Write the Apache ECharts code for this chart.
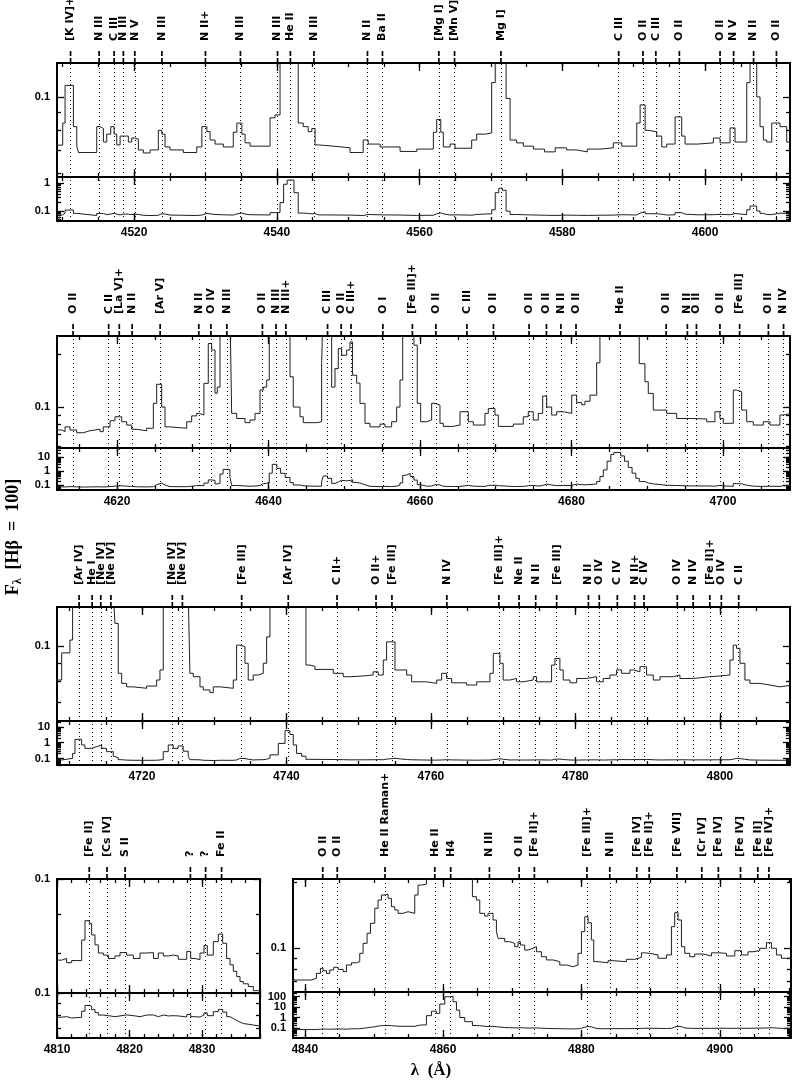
<!DOCTYPE html>
<html><head><meta charset="utf-8">
<script src="https://cdn.jsdelivr.net/npm/echarts@6/dist/echarts.min.js"></script>
<style>html,body{margin:0;padding:0;background:#fff}#c{width:792px;height:1081px}</style>
</head><body><div id="c"></div>
<script>
// ---------------- DATA ----------------
// spectrum: [wavelength (bin start, Å), F_lambda (Hβ = 100)]
const row1Spectrum = [[4509.0,0.0725],[4510.0,0.084],[4510.33,0.108],[4511.5,0.082],[4511.97,0.072],[4512.2,0.069],[4514.77,0.082],[4515.24,0.081],[4515.7,0.074],[4516.17,0.078],[4516.73,0.082],[4517.2,0.078],[4517.57,0.0726],[4518.04,0.077],[4518.5,0.077],[4519.2,0.074],[4519.67,0.076],[4520.14,0.0755],[4520.6,0.0702],[4521.3,0.0688],[4522.24,0.0702],[4523.4,0.080],[4523.88,0.078],[4524.34,0.0716],[4525.04,0.0702],[4526.9,0.069],[4528.78,0.0716],[4529.5,0.082],[4530.2,0.0793],[4530.65,0.075],[4531.35,0.073],[4532.5,0.0716],[4533.9,0.079],[4534.4,0.084],[4535.1,0.078],[4535.55,0.0736],[4536.25,0.072],[4539.05,0.087],[4539.75,0.0887],[4540.45,0.2],[4540.95,0.9],[4541.45,1.27],[4542.4,0.45],[4543.0,0.084],[4543.7,0.082],[4544.4,0.0793],[4544.9,0.081],[4545.36,0.0726],[4545.8,0.072],[4547.9,0.0712],[4550.26,0.069],[4552.1,0.075],[4552.8,0.073],[4554.47,0.0716],[4557.27,0.0695],[4559.6,0.0706],[4561.93,0.079],[4562.4,0.086],[4562.97,0.079],[4563.33,0.0716],[4564.27,0.073],[4564.97,0.071],[4567.3,0.075],[4568.0,0.078],[4569.18,0.0786],[4570.1,0.11],[4570.6,0.45],[4571.1,0.65],[4571.6,0.55],[4572.12,0.099],[4572.68,0.075],[4573.6,0.0736],[4574.55,0.072],[4575.95,0.0706],[4577.5,0.0693],[4579.0,0.0712],[4580.6,0.0702],[4582.0,0.0693],[4583.5,0.0706],[4585.3,0.0712],[4587.15,0.0736],[4588.33,0.072],[4590.43,0.084],[4590.9,0.0948],[4591.6,0.080],[4592.06,0.0793],[4593.23,0.077],[4593.93,0.0716],[4594.63,0.073],[4595.8,0.0875],[4596.73,0.077],[4597.2,0.073],[4599.0,0.0736],[4601.16,0.076],[4602.1,0.0736],[4603.5,0.0813],[4604.2,0.074],[4605.84,0.11],[4606.3,0.15],[4607.24,0.1],[4607.7,0.082],[4608.17,0.075],[4608.64,0.074],[4609.34,0.084],[4610.5,0.082],[4611.44,0.074],[4612.0,0.074]];
const row2Spectrum = [[4612.0,0.0739],[4612.7,0.0723],[4613.14,0.077],[4613.8,0.0739],[4614.68,0.0713],[4615.55,0.0732],[4616.44,0.0746],[4617.76,0.0723],[4618.19,0.077],[4619.08,0.0835],[4619.74,0.088],[4620.62,0.0824],[4621.28,0.0789],[4621.94,0.0746],[4622.6,0.0732],[4623.92,0.0756],[4624.8,0.105],[4625.24,0.135],[4625.9,0.1],[4626.34,0.077],[4627.0,0.0756],[4629.2,0.0824],[4629.86,0.089],[4630.52,0.092],[4630.87,0.090],[4631.48,0.1366],[4632.05,0.231],[4632.5,0.212],[4632.94,0.12],[4633.24,0.13],[4633.6,0.6],[4634.0,1.3],[4634.9,0.4],[4635.14,0.092],[4635.8,0.086],[4636.9,0.0814],[4637.56,0.0843],[4638.22,0.092],[4638.88,0.125],[4639.31,0.13],[4639.76,0.1427],[4640.1,0.7],[4640.5,3.0],[4641.1,1.55],[4641.6,0.68],[4642.2,0.35],[4642.84,0.149],[4643.27,0.1],[4644.16,0.088],[4644.59,0.0814],[4646.36,0.0824],[4647.02,0.178],[4647.24,0.44],[4647.8,0.3],[4648.34,0.13],[4648.78,0.166],[4649.22,0.216],[4649.66,0.198],[4650.32,0.212],[4650.76,0.236],[4651.1,0.152],[4651.64,0.137],[4652.08,0.105],[4652.74,0.0807],[4653.4,0.077],[4654.72,0.0799],[4655.38,0.077],[4656.26,0.0824],[4656.92,0.1],[4657.36,0.1427],[4657.72,0.5],[4658.2,0.68],[4658.7,0.4],[4659.2,0.226],[4659.64,0.105],[4660.09,0.0824],[4660.88,0.0843],[4661.54,0.105],[4661.98,0.1027],[4662.64,0.0807],[4663.08,0.0775],[4664.4,0.0789],[4665.28,0.094],[4666.38,0.0824],[4667.04,0.0789],[4668.58,0.092],[4669.02,0.098],[4669.9,0.09],[4670.34,0.0775],[4672.32,0.0799],[4673.64,0.088],[4674.3,0.094],[4674.96,0.0843],[4675.62,0.092],[4676.2,0.1156],[4676.73,0.1],[4677.39,0.09],[4678.05,0.094],[4678.92,0.092],[4680.03,0.117],[4680.69,0.106],[4681.35,0.103],[4681.78,0.108],[4682.44,0.117],[4683.33,0.179],[4683.76,0.4],[4684.2,1.2],[4684.7,5.0],[4685.2,15],[4685.6,21],[4686.5,12],[4687.0,5],[4687.5,1.8],[4688.0,0.7],[4688.5,0.3],[4688.95,0.177],[4689.7,0.1395],[4690.14,0.1197],[4690.8,0.0961],[4692.57,0.092],[4693.89,0.086],[4695.64,0.0855],[4697.85,0.0824],[4698.94,0.094],[4699.6,0.086],[4700.04,0.0807],[4701.36,0.125],[4701.8,0.1223],[4702.47,0.0961],[4703.13,0.0824],[4704.0,0.0789],[4705.32,0.0824],[4706.2,0.0789],[4707.52,0.09],[4707.96,0.092],[4709.0,0.092]];
const row3Spectrum = [[4708.0,0.0807],[4708.89,0.0958],[4710.03,0.1039],[4710.4,0.21],[4710.73,1.64],[4711.65,0.72],[4712.1,0.44],[4713.04,0.56],[4713.73,0.72],[4714.42,0.44],[4715.1,0.27],[4716.03,0.14],[4716.26,0.1154],[4716.72,0.0842],[4717.19,0.079],[4717.88,0.0773],[4718.8,0.0766],[4720.65,0.0777],[4722.03,0.0807],[4722.49,0.086],[4722.95,0.27],[4723.64,0.72],[4724.33,0.44],[4725.0,0.62],[4725.7,0.29],[4726.4,0.14],[4726.64,0.0842],[4727.1,0.0824],[4728.03,0.0773],[4728.49,0.0758],[4729.41,0.0745],[4729.87,0.0773],[4730.8,0.0766],[4732.64,0.0807],[4733.1,0.1006],[4733.56,0.0996],[4734.26,0.0897],[4734.71,0.0807],[4735.4,0.0833],[4736.1,0.0842],[4736.79,0.0897],[4737.26,0.106],[4737.72,0.17],[4738.87,0.9],[4739.8,5.75],[4740.48,3.3],[4740.94,0.72],[4741.4,0.21],[4742.1,0.14],[4742.7,0.0887],[4743.25,0.088],[4743.94,0.0863],[4746.48,0.0842],[4747.86,0.0824],[4748.79,0.0828],[4750.63,0.0833],[4752.0,0.085],[4752.7,0.0833],[4753.4,0.0916],[4753.86,0.1027],[4755.02,0.086],[4756.64,0.0833],[4757.33,0.0798],[4759.4,0.079],[4760.8,0.0807],[4761.48,0.0842],[4762.17,0.0815],[4762.87,0.0793],[4764.94,0.0782],[4766.33,0.0798],[4768.17,0.0842],[4768.63,0.0955],[4769.55,0.0897],[4770.0,0.0807],[4770.93,0.0815],[4771.86,0.0798],[4772.77,0.0807],[4774.16,0.0824],[4774.62,0.0798],[4776.7,0.0887],[4777.16,0.0925],[4777.85,0.086],[4778.31,0.0807],[4779.24,0.0793],[4780.17,0.0815],[4781.55,0.0824],[4782.93,0.0798],[4783.85,0.0815],[4784.78,0.0833],[4785.7,0.086],[4786.4,0.0842],[4787.54,0.086],[4788.0,0.085],[4788.93,0.0878],[4789.85,0.0833],[4790.77,0.0807],[4791.7,0.0824],[4793.54,0.0833],[4794.46,0.0815],[4796.3,0.0824],[4798.6,0.0828],[4800.0,0.0833],[4801.38,0.0916],[4801.84,0.1006],[4802.3,0.0986],[4802.77,0.0897],[4803.46,0.0807],[4804.15,0.079],[4805.54,0.0782],[4806.92,0.0773],[4808.3,0.0782],[4810.0,0.0782]];
const row4aSpectrum = [[4809.8,0.0783],[4810.64,0.0787],[4811.33,0.0777],[4812.02,0.0782],[4813.4,0.0832],[4813.86,0.0882],[4814.46,0.0875],[4814.78,0.0845],[4815.24,0.082],[4815.7,0.080],[4816.39,0.0795],[4817.08,0.0787],[4818.0,0.0793],[4818.69,0.0801],[4819.61,0.0795],[4820.53,0.0787],[4821.45,0.0800],[4822.37,0.0801],[4823.3,0.0787],[4823.97,0.0800],[4824.67,0.0793],[4825.36,0.0795],[4826.04,0.0793],[4826.73,0.0785],[4827.9,0.0804],[4828.44,0.0787],[4829.03,0.0784],[4829.72,0.080],[4830.28,0.0818],[4830.73,0.0795],[4831.56,0.0828],[4832.25,0.0847],[4832.85,0.0824],[4833.4,0.0787],[4833.86,0.0772],[4834.32,0.0757],[4834.79,0.0745],[4835.24,0.0734],[4835.7,0.0729],[4836.39,0.0723],[4837.08,0.0714],[4838.2,0.0714]];
const row4bSpectrum = [[4838.0,0.0712],[4840.97,0.0725],[4841.69,0.0764],[4842.27,0.0806],[4842.65,0.0786],[4843.14,0.0764],[4843.61,0.0792],[4844.19,0.0815],[4844.82,0.0797],[4845.54,0.0778],[4846.03,0.0835],[4846.75,0.0855],[4847.47,0.0865],[4847.95,0.0945],[4848.43,0.1051],[4849.01,0.1169],[4849.5,0.13],[4850.12,0.1524],[4850.6,0.1664],[4851.09,0.1755],[4851.57,0.1773],[4852.04,0.1694],[4852.53,0.155],[4853.01,0.1497],[4853.49,0.1445],[4854.21,0.147],[4854.93,0.1445],[4855.9,0.1755],[4856.38,0.195],[4856.87,0.197],[4857.59,1.5],[4858.32,4.0],[4859.04,2.5],[4859.52,19],[4860.24,95],[4860.96,105],[4861.44,32],[4861.93,5],[4862.41,1.0],[4863.13,0.4],[4864.24,0.1724],[4864.82,0.1664],[4865.3,0.1445],[4866.02,0.1404],[4866.5,0.1445],[4867.22,0.1346],[4867.71,0.1189],[4867.95,0.1108],[4868.91,0.1069],[4869.64,0.1051],[4870.36,0.1014],[4870.84,0.1069],[4871.18,0.1032],[4871.8,0.0979],[4872.29,0.0997],[4873.0,0.1014],[4873.5,0.0961],[4874.22,0.0912],[4874.94,0.0881],[4875.9,0.0865],[4876.87,0.0835],[4877.83,0.082],[4878.79,0.0835],[4879.51,0.0945],[4880.0,0.1189],[4880.48,0.1394],[4880.96,0.1308],[4881.44,0.1089],[4881.78,0.0865],[4882.4,0.0855],[4883.85,0.0874],[4884.57,0.0865],[4886.5,0.0887],[4887.71,0.0906],[4888.67,0.095],[4889.15,0.0945],[4889.88,0.0929],[4891.08,0.0897],[4892.29,0.0929],[4893.01,0.1254],[4893.49,0.1455],[4893.97,0.1346],[4894.46,0.1014],[4894.94,0.0945],[4895.66,0.0912],[4896.38,0.0938],[4897.58,0.0919],[4898.8,0.095],[4900.0,0.0945],[4900.97,0.0919],[4902.17,0.0972],[4903.13,0.0929],[4904.09,0.0961],[4904.81,0.0972],[4905.78,0.0997],[4906.75,0.1058],[4907.47,0.0997],[4908.19,0.0929],[4908.91,0.0897],[4910.5,0.0897]];

// line identifications: [wavelength, label]
const row1Lines = [[4511.1,'[K IV]+'],[4515.1,'N III'],[4517.2,'C III'],[4518.5,'N III'],[4520.1,'N V'],[4523.9,'N III'],[4530.0,'N II+'],[4534.9,'N III'],[4540.1,'N III'],[4541.9,'He II'],[4545.2,'N III'],[4552.7,'N II'],[4554.8,'Ba II'],[4562.7,'[Mg I]'],[4564.9,'[Mn V]'],[4571.4,'Mg I]'],[4587.9,'C III'],[4591.3,'O II'],[4593.1,'C III'],[4596.4,'O II'],[4602.1,'O II'],[4604.0,'N V'],[4606.8,'N II'],[4610.0,'O II']];
const row2Lines = [[4614.2,'O II'],[4618.9,'C II'],[4620.3,'[La V]+'],[4622.0,'N II'],[4625.7,'[Ar V]'],[4630.8,'N II'],[4632.4,'O IV'],[4634.5,'N III'],[4639.2,'O II'],[4641.0,'N III'],[4642.3,'N III+'],[4647.8,'C III'],[4649.6,'O II'],[4650.9,'C III+'],[4655.1,'O I'],[4659.0,'[Fe III]+'],[4662.1,'O II'],[4666.2,'C III'],[4669.7,'O II'],[4674.4,'O II'],[4676.7,'O II'],[4678.6,'N II'],[4680.6,'O II'],[4686.4,'He II'],[4692.5,'O II'],[4695.3,'N II'],[4696.5,'O II'],[4699.6,'O II'],[4702.2,'[Fe III]'],[4706.0,'O II'],[4708.0,'N IV']];
const row3Lines = [[4711.3,'[Ar IV]'],[4713.1,'He I'],[4714.3,'[Ne IV]'],[4715.7,'[Ne IV]'],[4724.2,'[Ne IV]'],[4725.6,'[Ne IV]'],[4733.8,'[Fe III]'],[4740.25,'[Ar IV]'],[4747.0,'C II+'],[4752.4,'O II+'],[4754.6,'[Fe III]'],[4762.2,'N IV'],[4769.4,'[Fe III]+'],[4772.2,'Ne II'],[4774.5,'N II'],[4777.4,'[Fe III]'],[4781.8,'N II'],[4783.3,'O IV'],[4785.8,'C IV'],[4788.2,'N II+'],[4789.5,'C IV'],[4794.1,'O IV'],[4796.3,'N IV'],[4798.6,'[Fe II]+'],[4800.2,'O IV'],[4802.6,'C II']];
const row4aLines = [[4814.45,'[Fe II]'],[4816.9,'[Cs IV]'],[4819.4,'S II'],[4828.4,'?'],[4830.5,'?'],[4832.7,'Fe II']];
const row4bLines = [[4842.6,'O II'],[4844.7,'O II'],[4851.6,'He II Raman+'],[4858.8,'He II'],[4861.1,'H4'],[4866.7,'N III'],[4871.0,'O II'],[4873.2,'[Fe II]+'],[4880.8,'[Fe III]+'],[4884.1,'N III'],[4888.0,'[Fe IV]'],[4889.8,'[Fe II]+'],[4893.8,'[Fe VII]'],[4897.4,'[Cr IV]'],[4899.8,'[Fe IV]'],[4903.0,'[Fe IV]'],[4905.5,'[Fe II]'],[4907.1,'[Fe IV]+']];

// x tick labels
const row1TickLabels = [4520, 4540, 4560, 4580, 4600];
const row2TickLabels = [4620, 4640, 4660, 4680, 4700];
const row3TickLabels = [4720, 4740, 4760, 4780, 4800];
const row4aTickLabels = [4810, 4820, 4830];
const row4bTickLabels = [4840, 4860, 4880, 4900];

// ---------------- BUILD ----------------
const FONT = '"Liberation Sans", Arial, Helvetica, sans-serif';
const IDFONT = '"DejaVu Sans", "Liberation Sans", sans-serif';
const SERIF = '"Liberation Serif", "DejaVu Serif", serif';
function steps(a, b, s) { const o = []; for (let v = Math.ceil(a / s) * s; v <= b + 1e-6; v += s) o.push(Math.round(v * 1000) / 1000); return o; }
function logMajors(lo, hi) { const o = []; for (let e = -3; e <= 4; e++) { const v = +Math.pow(10, e).toPrecision(3); if (v >= lo && v <= hi) o.push(v); } return o; }
function logMinors(lo, hi) { const o = []; for (let e = -3; e <= 3; e++) for (let m = 2; m <= 9; m++) { const v = +(m * Math.pow(10, e)).toPrecision(3); if (v > lo && v < hi) o.push(v); } return o; }

const option = { animation: false, backgroundColor: '#fff', grid: [], xAxis: [], yAxis: [], series: [], graphic: [] };

function addPanel(spec, lines, xr, xMajor, xMinor, box, yr, showX) {
  const g = option.grid.length;
  option.grid.push({ left: box[0], top: box[1], width: box[2], height: box[3], show: false, containLabel: false, outerBoundsMode: 'none' });
  const xi = option.xAxis.length, yi = option.yAxis.length;
  const yMajor = logMajors(yr[0], yr[1]), yMinor = logMinors(yr[0], yr[1]);
  const labA = yMajor.filter((v, i) => i % 2 === 0), labB = yMajor.filter((v, i) => i % 2 === 1);
  [['bottom', true], ['bottom', false], ['top', true], ['top', false]].forEach(([pos, major]) => {
    option.xAxis.push({ type: 'value', gridIndex: g, position: pos, min: xr[0], max: xr[1],
      axisLine: { show: major, onZero: false, lineStyle: { color: '#000', width: 2 } },
      axisTick: { show: true, inside: true, length: major ? 8 : 4, customValues: major ? xMajor : xMinor, lineStyle: { color: '#000', width: 1.3 } },
      axisLabel: { show: showX && major && pos === 'bottom', customValues: xMajor, margin: 6, color: '#000', fontSize: 12, fontWeight: 'bold', fontFamily: FONT,
        hideOverlap: false, formatter: v => String(Math.round(v)) },
      splitLine: { show: false } });
  });
  [['left', true], ['left', false], ['right', true], ['right', false]].forEach(([pos, major]) => {
    const labs = major ? labA : labB;
    option.yAxis.push({ type: 'log', logBase: 10, gridIndex: g, position: pos, min: yr[0], max: yr[1],
      axisLine: { show: major, onZero: false, lineStyle: { color: '#000', width: 2 } },
      axisTick: { show: true, inside: true, length: major ? 7 : 4, customValues: major ? yMajor : yMinor, lineStyle: { color: '#000', width: 1.3 } },
      axisLabel: { show: pos === 'left' && labs.length > 0, customValues: labs.length ? labs : [yr[0]], margin: 7, color: '#000', fontSize: 11, fontWeight: 'bold', fontFamily: FONT,
        hideOverlap: false, formatter: v => String(+Number(v).toPrecision(3)) },
      splitLine: { show: false } });
  });
  option.series.push({ type: 'line', xAxisIndex: xi, yAxisIndex: yi, data: spec, step: 'end', symbol: 'none', showSymbol: false,
    clip: true, silent: true, lineStyle: { color: '#1e1e1e', width: 1 },
    markLine: { silent: true, symbol: ['none', 'none'], label: { show: false }, animation: false,
      lineStyle: { color: '#000', width: 1, type: [1, 3] }, emphasis: { disabled: true },
      data: lines.map(l => ({ xAxis: l[0] })) } });
}

function addLabelRow(lines, xr, left, width, top) {
  const g = option.grid.length;
  option.grid.push({ left: left, top: top, width: width, height: 14, show: false, outerBoundsMode: 'none' });
  const xi = option.xAxis.length, yi = option.yAxis.length;
  option.xAxis.push({ type: 'value', gridIndex: g, min: xr[0], max: xr[1], show: false });
  option.yAxis.push({ type: 'value', gridIndex: g, min: 0, max: 1, show: false });
  option.series.push({ type: 'custom', xAxisIndex: xi, yAxisIndex: yi, clip: false, silent: true,
    data: lines.map(l => [l[0], 0]),
    renderItem: (params, api) => {
      const lam = api.value(0);
      const name = lines[params.dataIndex][1];
      const pb = api.coord([lam, 0]), pt = api.coord([lam, 1]);
      return { type: 'group', children: [
        { type: 'line', shape: { x1: pb[0], y1: pb[1], x2: pt[0], y2: pt[1] }, style: { stroke: '#000', lineWidth: 1.7, lineDash: [5, 2] } },
        { type: 'text', x: pt[0], y: pt[1] - 8, rotation: Math.PI / 2,
          style: { text: name, x: 0, y: 0, align: 'left', verticalAlign: 'middle', fill: '#000', font: 'bold 11px ' + IDFONT } }
      ] };
    } });
}

// Row 1
let xr = [4509.2, 4611.9];
addLabelRow(row1Lines, xr, 57, 733, 49);
addPanel(row1Spectrum, row1Lines, xr, row1TickLabels, steps(xr[0], xr[1], 5), [57, 63, 733, 114], [0.0586, 0.1254], false);
addPanel(row1Spectrum, row1Lines, xr, row1TickLabels, steps(xr[0], xr[1], 5), [57, 177, 733, 44], [0.0439, 1.637], true);
// Row 2
xr = [4612.08, 4708.85];
addLabelRow(row2Lines, xr, 57, 733, 322);
addPanel(row2Spectrum, row2Lines, xr, row2TickLabels, steps(xr[0], xr[1], 5), [57, 336, 733, 112], [0.0583, 0.255], false);
addPanel(row2Spectrum, row2Lines, xr, row2TickLabels, steps(xr[0], xr[1], 5), [57, 448, 733, 42], [0.044, 44], true);
// Row 3
xr = [4708.24, 4809.7];
addLabelRow(row3Lines, xr, 57, 733, 593);
addPanel(row3Spectrum, row3Lines, xr, row3TickLabels, steps(xr[0], xr[1], 5), [57, 607, 733, 114], [0.0623, 0.128], false);
addPanel(row3Spectrum, row3Lines, xr, row3TickLabels, steps(xr[0], xr[1], 5), [57, 721, 733, 44], [0.0388, 23.6], true);
// Row 4 left
xr = [4810, 4838];
addLabelRow(row4aLines, xr, 57, 203, 865);
addPanel(row4aSpectrum, row4aLines, xr, row4aTickLabels, steps(xr[0], xr[1], 2), [57, 879, 203, 114], [0.0709, 0.10005], false);
addPanel(row4aSpectrum, row4aLines, xr, row4aTickLabels, steps(xr[0], xr[1], 2), [57, 993, 203, 45], [0.0634, 0.10005], true);
// Row 4 right
xr = [4838.3, 4910.3];
addLabelRow(row4bLines, xr, 293, 498, 865);
addPanel(row4bSpectrum, row4bLines, xr, row4bTickLabels, steps(xr[0], xr[1], 5), [293, 879, 498, 113], [0.0627, 0.208], false);
addPanel(row4bSpectrum, row4bLines, xr, row4bTickLabels, steps(xr[0], xr[1], 5), [293, 992, 498, 46], [0.0112, 268], true);

option.graphic = [
  { type: 'text', x: 13, y: 537, rotation: Math.PI / 2, silent: true,
    style: { text: '{a|F}{s|λ}{a|  [Hβ  =  100]}', align: 'center', verticalAlign: 'middle',
      rich: { a: { font: 'bold 18px ' + SERIF, fill: '#000', lineHeight: 22, verticalAlign: 'middle' },
              s: { font: 'bold 12px ' + SERIF, fill: '#000', verticalAlign: 'bottom' } } } },
  { type: 'text', x: 431, y: 1071, silent: true,
    style: { text: 'λ  (Å)', font: 'bold 17px ' + SERIF, fill: '#000', align: 'center', verticalAlign: 'middle' } }
];

const chart = echarts.init(document.getElementById('c'), null, { renderer: 'canvas' });
chart.setOption(option);
</script></body></html>
